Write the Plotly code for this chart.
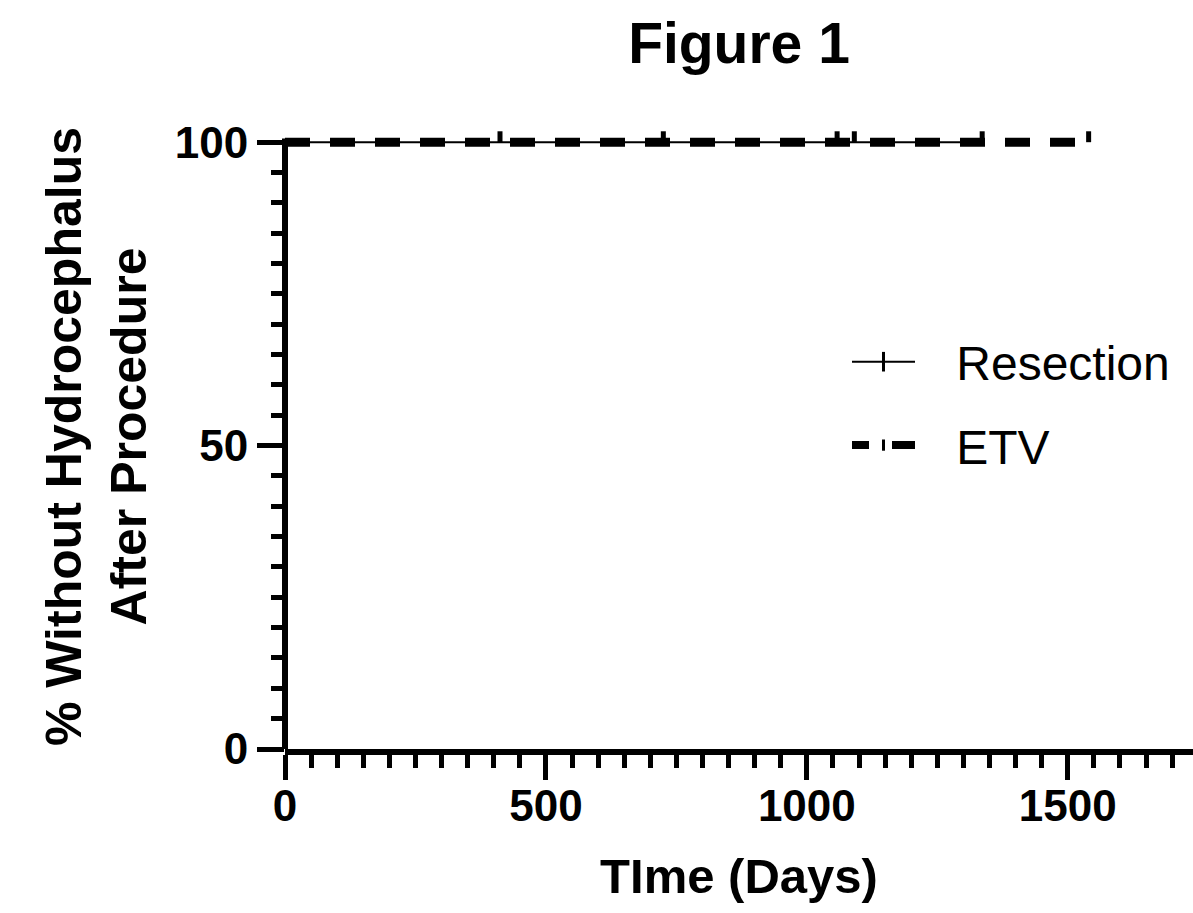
import plotly.graph_objects as go

# ---- data ----
resection_time = [0, 412, 725, 1058, 1091, 1336]
resection_surv = [100, 100, 100, 100, 100, 100]
resection_censor_time = [412, 725, 1058, 1091, 1336]
resection_censor_surv = [100, 100, 100, 100, 100]

etv_time = [0, 1540]
etv_surv = [100, 100]
etv_censor_time = [1540]
etv_censor_surv = [100]

x_tickvals = [0, 500, 1000, 1500]
y_tickvals = [0, 50, 100]

FONT = "Liberation Sans"
CENSOR_H = 1.8  # censor tick height in y units (style)

fig = go.Figure()

# Resection survival line
fig.add_trace(go.Scatter(x=resection_time, y=resection_surv, mode="lines",
                         line=dict(color="black", width=2), showlegend=False,
                         hoverinfo="skip"))
# ETV survival line
fig.add_trace(go.Scatter(x=etv_time, y=etv_surv, mode="lines",
                         line=dict(color="black", width=9, dash="25px,20px"),
                         showlegend=False, hoverinfo="skip"))
# censor ticks (upward)
for ct, cs in [(resection_censor_time, resection_censor_surv),
               (etv_censor_time, etv_censor_surv)]:
    fig.add_trace(go.Scatter(
        x=ct, y=cs, mode="markers",
        marker=dict(size=1, color="rgba(0,0,0,0)"),
        error_y=dict(type="data", symmetric=False,
                     array=[CENSOR_H] * len(ct), arrayminus=[0] * len(ct),
                     width=0, thickness=5, color="black"),
        showlegend=False, hoverinfo="skip"))

# legend entries
fig.add_trace(go.Scatter(x=[None], y=[None], mode="lines+markers",
                         name="\u00a0\u00a0\u2009Resection", legendgroup="a",
                         line=dict(color="black", width=2),
                         marker=dict(symbol="line-ns", size=14,
                                     line=dict(color="black", width=3))))
fig.add_trace(go.Scatter(x=[None], y=[None], mode="lines+markers",
                         name="\u00a0\u00a0\u2009ETV", legendgroup="b",
                         line=dict(color="black", width=8, dash="17px,23px,30px"),
                         marker=dict(symbol="line-ns", size=8,
                                     line=dict(color="black", width=3))))

# y axis line as a shape (so it stops at 100)
fig.add_shape(type="line", xref="paper", yref="y", x0=0, x1=0, y0=0, y1=100.6,
              line=dict(color="black", width=6))

fig.update_layout(
    width=1193, height=913,
    margin=dict(l=285, r=0, t=124, b=164),
    paper_bgcolor="white", plot_bgcolor="white",
    hovermode=False,
    title=dict(text="<b>Figure 1</b>", x=0.5, xref="paper",
               y=1 - 43 / 913, yref="container", yanchor="middle",
               font=dict(family=FONT, size=57, color="black")),
    legend=dict(x=(847 - 285) / 908, xanchor="left",
                y=1 - (324 - 124) / 625, yanchor="top",
                font=dict(family=FONT, size=48, color="black"),
                itemwidth=63, tracegroupgap=18, traceorder="grouped",
                bgcolor="rgba(0,0,0,0)"),
    xaxis=dict(range=[0, 1740], tickvals=x_tickvals,
               showline=True, linewidth=6, linecolor="black",
               ticks="outside", ticklen=25, tickwidth=5, tickcolor="black",
               minor=dict(dtick=50, ticks="outside", ticklen=13, tickwidth=5,
                          tickcolor="black"),
               showgrid=False, zeroline=False, ticklabelstandoff=-12,
               tickfont=dict(family=FONT, size=44, color="black", weight="bold"),
               title=dict(text="<b>TIme (Days)</b>", standoff=32,
                          font=dict(family=FONT, size=49, color="black"))),
    yaxis=dict(range=[0, 103], tickvals=y_tickvals,
               showline=False,
               ticks="outside", ticklen=27, tickwidth=5, tickcolor="black",
               minor=dict(dtick=5, ticks="outside", ticklen=13, tickwidth=5,
                          tickcolor="black"),
               showgrid=False, zeroline=False,
               tickfont=dict(family=FONT, size=44, color="black", weight="bold"),
               title=dict(text="<b>% Without Hydrocephalus<br>After Procedure</b>",
                          standoff=12,
                          font=dict(family=FONT, size=50, color="black"))),
)

fig.write_html("out.html")
